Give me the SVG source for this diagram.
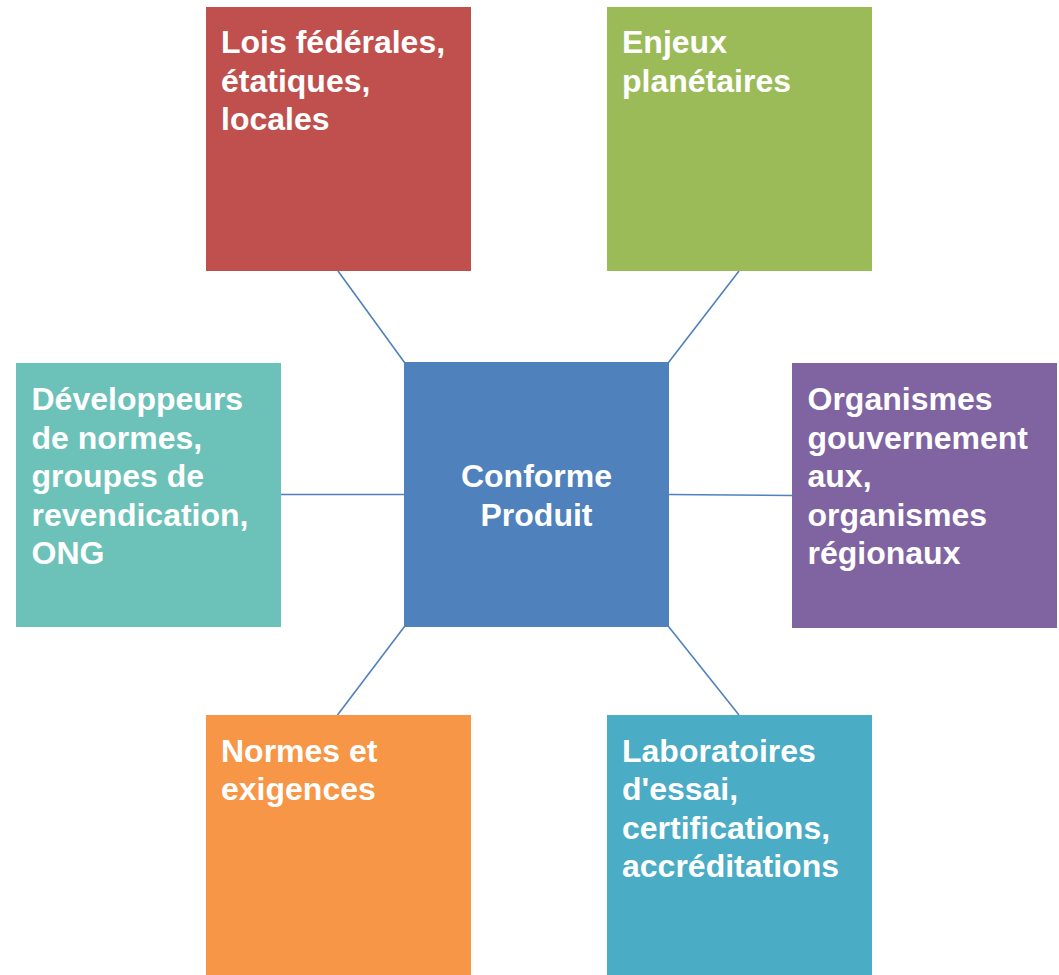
<svg xmlns="http://www.w3.org/2000/svg" width="1059" height="975" viewBox="0 0 1059 975">
<style>
.t{font-family:"Liberation Sans",Arial,sans-serif;font-weight:bold;font-size:32px;fill:#FFFFFF}
.c{text-anchor:middle}
.ln{stroke:#4F81BD;stroke-width:1.6;fill:none}
</style>
<rect x="0" y="0" width="1059" height="975" fill="#FFFFFF"/>
<g id="connectors">
<line class="ln" x1="338" y1="271" x2="404.5" y2="362.5"/>
<line class="ln" x1="739" y1="271" x2="668.5" y2="362.5"/>
<line class="ln" x1="281" y1="494.5" x2="404.5" y2="494.5"/>
<line class="ln" x1="668.5" y1="494.5" x2="792" y2="495.5"/>
<line class="ln" x1="404.5" y1="626.5" x2="337.5" y2="715"/>
<line class="ln" x1="668.5" y1="626.5" x2="739" y2="715"/>
</g>
<g id="center">
<rect x="404" y="362" width="265" height="265" fill="#4F81BD"/>
<text class="t c" x="536.5" y="487">Conforme</text>
<text class="t c" x="536.5" y="525.5">Produit</text>
</g>
<g id="lois">
<rect x="206" y="7" width="265" height="264" fill="#C0504D"/>
<text class="t" x="221" y="53">Lois fédérales,</text>
<text class="t" x="221" y="91.5">étatiques,</text>
<text class="t" x="221" y="130">locales</text>
</g>
<g id="enjeux">
<rect x="607" y="7" width="265" height="264" fill="#9BBB59"/>
<text class="t" x="622" y="53">Enjeux</text>
<text class="t" x="622" y="91.5">planétaires</text>
</g>
<g id="developpeurs">
<rect x="16" y="363" width="265" height="264" fill="#6CC2B9"/>
<text class="t" x="31.5" y="410">Développeurs</text>
<text class="t" x="31.5" y="448.5">de normes,</text>
<text class="t" x="31.5" y="487">groupes de</text>
<text class="t" x="31.5" y="525.5">revendication,</text>
<text class="t" x="31.5" y="564">ONG</text>
</g>
<g id="organismes">
<rect x="792" y="363" width="265" height="265" fill="#8064A2"/>
<text class="t" x="807.5" y="410">Organismes</text>
<text class="t" x="807.5" y="448.5">gouvernement</text>
<text class="t" x="807.5" y="487">aux,</text>
<text class="t" x="807.5" y="525.5">organismes</text>
<text class="t" x="807.5" y="564">régionaux</text>
</g>
<g id="normes">
<rect x="206" y="715" width="265" height="260" fill="#F79646"/>
<text class="t" x="221" y="761.5">Normes et</text>
<text class="t" x="221" y="800">exigences</text>
</g>
<g id="laboratoires">
<rect x="607" y="715" width="265" height="260" fill="#4BACC6"/>
<text class="t" x="622" y="761.5">Laboratoires</text>
<text class="t" x="622" y="800">d'essai,</text>
<text class="t" x="622" y="838.5">certifications,</text>
<text class="t" x="622" y="877">accréditations</text>
</g>
</svg>
